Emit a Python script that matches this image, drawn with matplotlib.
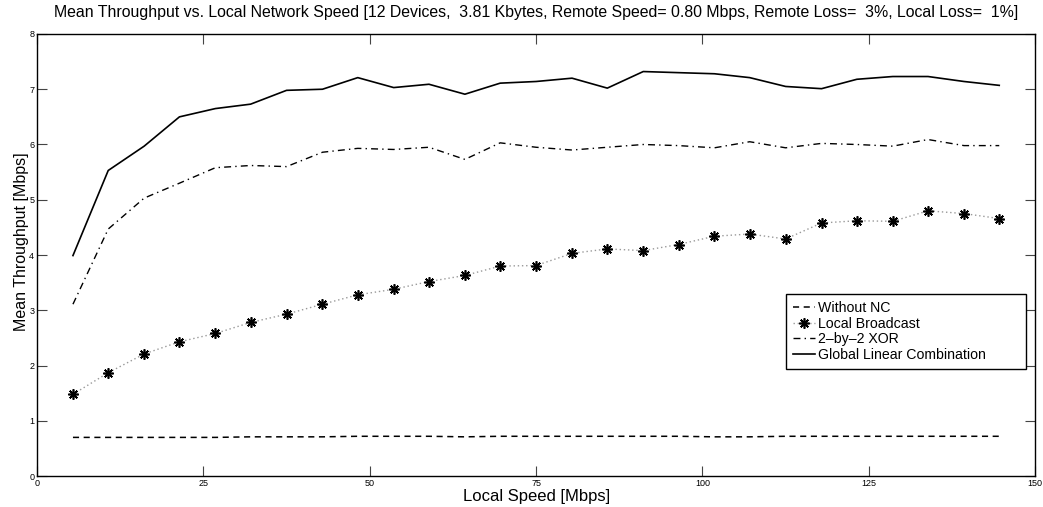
import matplotlib
matplotlib.use("Agg")
import matplotlib.pyplot as plt

plt.rcParams['font.family'] = ['Liberation Sans', 'DejaVu Sans']

# local speed [Mbps]
speed = [5.4, 10.7, 16.1, 21.4, 26.8, 32.1, 37.5, 42.9, 48.2, 53.6, 58.9, 64.3, 69.6, 75.0,
         80.4, 85.7, 91.1, 96.4, 101.8, 107.1, 112.5, 117.9, 123.2, 128.6, 133.9, 139.3, 144.6]

# mean throughput [Mbps]
without_nc = [0.70, 0.70, 0.70, 0.70, 0.70, 0.71, 0.71, 0.71, 0.72, 0.72, 0.72, 0.71, 0.72, 0.72,
              0.72, 0.72, 0.72, 0.72, 0.71, 0.71, 0.72, 0.72, 0.72, 0.72, 0.72, 0.72, 0.72]
local_bcast = [1.48, 1.87, 2.21, 2.43, 2.58, 2.78, 2.93, 3.11, 3.28, 3.38, 3.52, 3.63, 3.80, 3.81,
               4.03, 4.11, 4.08, 4.19, 4.34, 4.38, 4.29, 4.58, 4.62, 4.61, 4.80, 4.75, 4.66]
xor2 = [3.11, 4.47, 5.03, 5.30, 5.58, 5.62, 5.60, 5.86, 5.93, 5.91, 5.95, 5.73, 6.03, 5.95,
        5.90, 5.95, 6.00, 5.98, 5.94, 6.05, 5.94, 6.02, 6.00, 5.97, 6.09, 5.98, 5.98]
global_lc = [3.99, 5.53, 5.97, 6.50, 6.65, 6.73, 6.98, 7.00, 7.21, 7.03, 7.09, 6.91, 7.11, 7.14,
             7.20, 7.02, 7.32, 7.30, 7.28, 7.21, 7.05, 7.01, 7.18, 7.23, 7.23, 7.14, 7.07]

xticks = [0, 25, 50, 75, 100, 125, 150]
yticks = [0, 1, 2, 3, 4, 5, 6, 7, 8]

title = ("Mean Throughput vs. Local Network Speed [12 Devices,  3.81 Kbytes, "
         "Remote Speed= 0.80 Mbps, Remote Loss=  3%, Local Loss=  1%]")

fig = plt.figure(figsize=(10.43, 5.07), dpi=100)
ax = fig.add_axes([0.0355, 0.061, 0.957, 0.872])

ax.plot(speed, without_nc, color="black", linestyle=(0, (4, 3)), linewidth=1.1,
        label="Without NC")
ax.plot(speed, local_bcast, color="#999999", linestyle=(0, (1, 2)), linewidth=1.0,
        marker=(8, 2, 0), markersize=7.5, markeredgewidth=1.2,
        markeredgecolor="black", markerfacecolor="black", label="Local Broadcast")
ax.plot(speed, xor2, color="black", linestyle=(0, (5, 3, 1, 3)), linewidth=1.0,
        label="2\u2013by\u20132 XOR")
ax.plot(speed, global_lc, color="black", linestyle="-", linewidth=1.2,
        label="Global Linear Combination")

ax.set_xlim(0, 150)
ax.set_ylim(0, 8)
ax.set_xticks(xticks)
ax.set_yticks(yticks)
ax.tick_params(direction="in", length=7, width=0.8, color="#444444", labelsize=6.5,
               top=True, right=True, pad=2)
for s in ax.spines.values():
    s.set_linewidth(1.0)

ax.set_title(title, fontsize=11.4, pad=12)
ax.set_xlabel("Local Speed [Mbps]", fontsize=12, labelpad=1)
ax.set_ylabel("Mean Throughput [Mbps]", fontsize=11.5)
ax.yaxis.set_label_coords(-0.008, 0.53)

leg = ax.legend(loc="lower left", bbox_to_anchor=(0.750, 0.242, 0.241, 0.172),
                mode="expand", fontsize=10.2,
                handlelength=1.6, handletextpad=0.15, borderpad=0.5, labelspacing=0.12,
                fancybox=False, framealpha=1, borderaxespad=0)
leg.get_frame().set_edgecolor("black")
leg.get_frame().set_linewidth(1.0)

fig.savefig("out.png", dpi=100)
